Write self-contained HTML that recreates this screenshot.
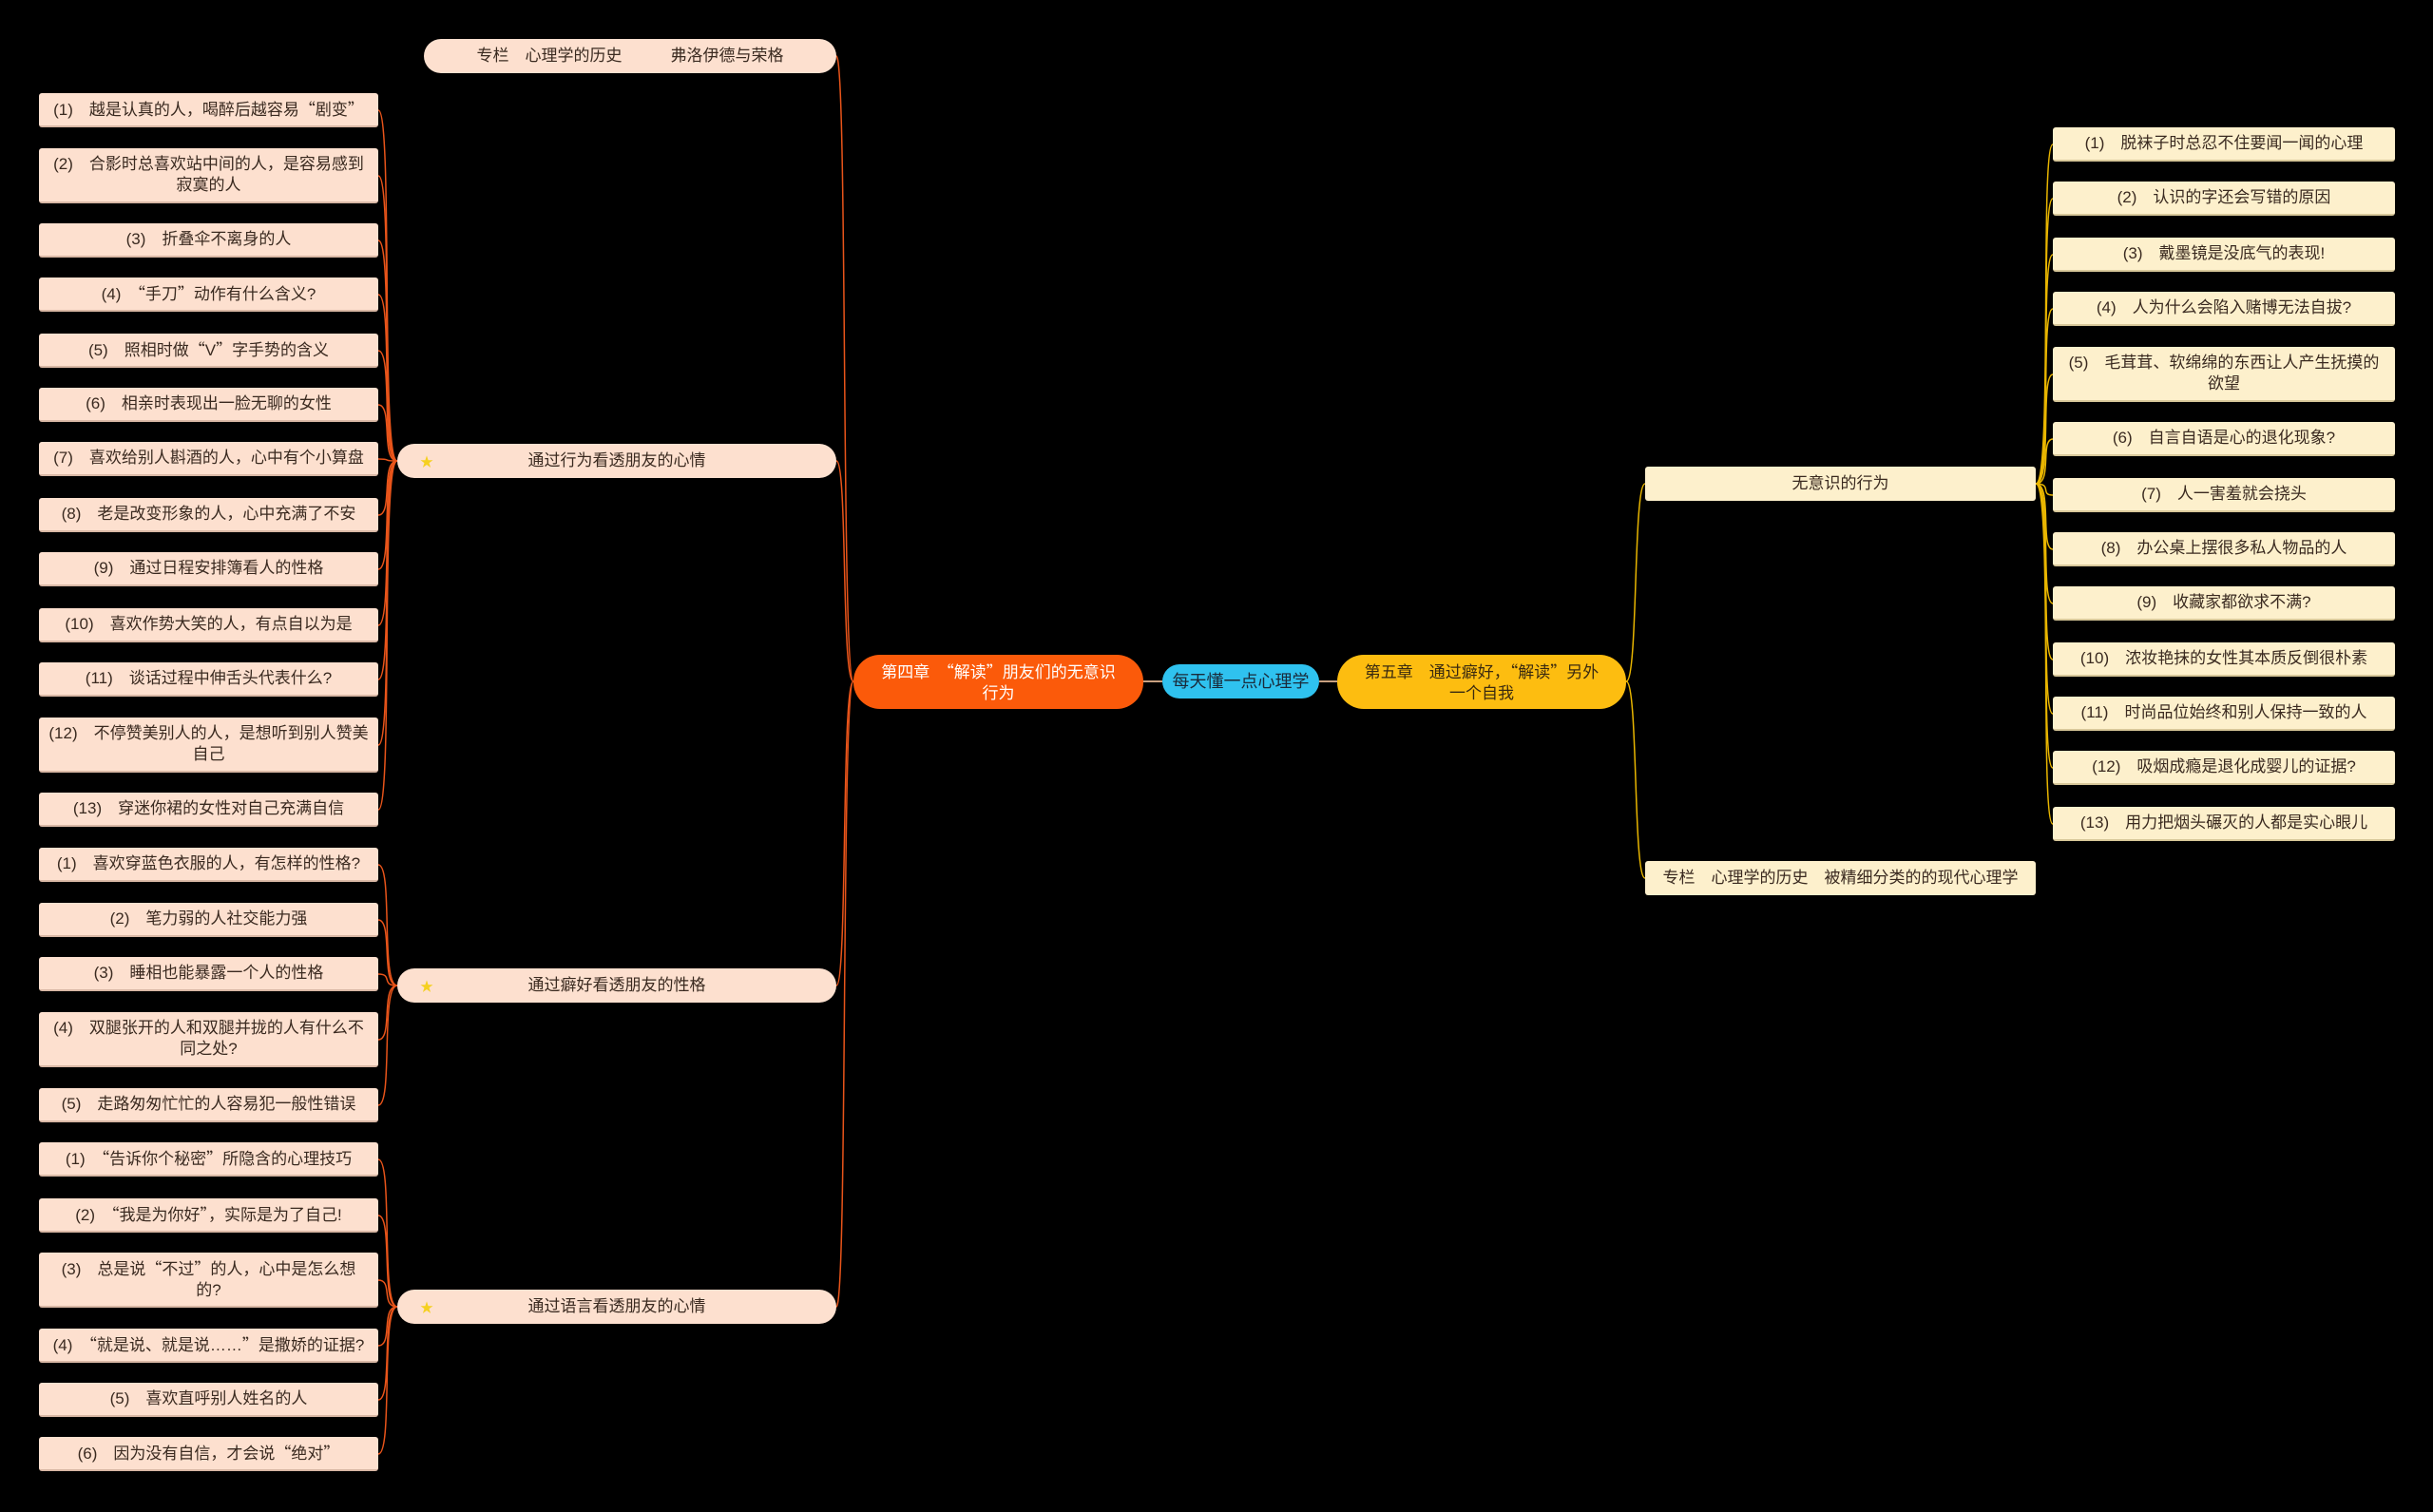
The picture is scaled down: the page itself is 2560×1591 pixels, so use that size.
<!DOCTYPE html>
<html><head><meta charset="utf-8"><style>
body{margin:0;width:2560px;height:1591px;background:#000;position:relative;overflow:hidden;font-family:"Liberation Sans","Noto Sans CJK SC",sans-serif;}
.n{position:absolute;display:flex;align-items:center;justify-content:center;text-align:center;box-sizing:border-box;font-size:17px;color:#3a2a20;line-height:22px;padding:0 10px;}
.l{left:41px;width:357px;height:36px;background:#fde0cf;border-radius:3px;border-bottom:2px solid #d9b8a5;}
.l2{height:58px;}
.r{left:2160px;width:360px;height:36px;background:#fdf0cc;border-radius:3px;border-bottom:2px solid #d8c89a;}
.r2{height:58px;}
.m{left:418px;width:462px;height:36px;background:#fde0cf;border-radius:18px;}
.star{position:absolute;left:24px;top:8px;color:#f5d020;font-size:14px;}
.q{font-family:"Noto Sans CJK SC",sans-serif;}
</style></head><body>
<svg width="2560" height="1591" style="position:absolute;left:0;top:0">
<g fill="none" stroke="#e8541a" stroke-width="1.5">
<path d="M898,717 C885,717 892,59 880,59"/>
<path d="M898,717 C885,717 892,485 880,485"/>
<path d="M898,717 C885,717 892,1037 880,1037"/>
<path d="M898,717 C885,717 892,1375 880,1375"/>
<path d="M418,485 C400,485 414,116 398,116"/><path d="M418,485 C400,485 414,185 398,185"/><path d="M418,485 C400,485 414,253 398,253"/><path d="M418,485 C400,485 414,310 398,310"/><path d="M418,485 C400,485 414,369 398,369"/><path d="M418,485 C400,485 414,426 398,426"/><path d="M418,485 C400,485 414,483 398,483"/><path d="M418,485 C400,485 414,542 398,542"/><path d="M418,485 C400,485 414,599 398,599"/><path d="M418,485 C400,485 414,658 398,658"/><path d="M418,485 C400,485 414,715 398,715"/><path d="M418,485 C400,485 414,784 398,784"/><path d="M418,485 C400,485 414,852 398,852"/>
<path d="M418,1037 C400,1037 414,910 398,910"/><path d="M418,1037 C400,1037 414,968 398,968"/><path d="M418,1037 C400,1037 414,1025 398,1025"/><path d="M418,1037 C400,1037 414,1094 398,1094"/><path d="M418,1037 C400,1037 414,1163 398,1163"/>
<path d="M418,1375 C400,1375 414,1220 398,1220"/><path d="M418,1375 C400,1375 414,1279 398,1279"/><path d="M418,1375 C400,1375 414,1347 398,1347"/><path d="M418,1375 C400,1375 414,1416 398,1416"/><path d="M418,1375 C400,1375 414,1473 398,1473"/><path d="M418,1375 C400,1375 414,1530 398,1530"/>
</g>
<path d="M1203,717 L1223,717 M1388,717 L1407,717" stroke="#c9a080" stroke-width="2"/>
<g fill="none" stroke="#e8b500" stroke-width="1.5">
<path d="M1711,717 C1724,717 1718,509 1731,509"/><path d="M1711,717 C1724,717 1718,924 1731,924"/>
<path d="M2142,509 C2160,509 2146,152 2160,152"/><path d="M2142,509 C2160,509 2146,209 2160,209"/><path d="M2142,509 C2160,509 2146,268 2160,268"/><path d="M2142,509 C2160,509 2146,325 2160,325"/><path d="M2142,509 C2160,509 2146,394 2160,394"/><path d="M2142,509 C2160,509 2146,462 2160,462"/><path d="M2142,509 C2160,509 2146,521 2160,521"/><path d="M2142,509 C2160,509 2146,578 2160,578"/><path d="M2142,509 C2160,509 2146,635 2160,635"/><path d="M2142,509 C2160,509 2146,694 2160,694"/><path d="M2142,509 C2160,509 2146,751 2160,751"/><path d="M2142,509 C2160,509 2146,808 2160,808"/><path d="M2142,509 C2160,509 2146,867 2160,867"/>
</g>
</svg>

<div class="n m" style="left:446px;width:434px;top:41px;">专栏　心理学的历史　　　弗洛伊德与荣格</div>
<div class="n m" style="top:467px;"><span class="star">★</span>通过行为看透朋友的心情</div>
<div class="n m" style="top:1019px;"><span class="star">★</span>通过癖好看透朋友的性格</div>
<div class="n m" style="top:1357px;"><span class="star">★</span>通过语言看透朋友的心情</div>

<div class="n l" style="top:98px"><span>(1)　越是认真的人，喝醉后越容易<span class="q">“</span>剧变<span class="q">”</span></span></div>
<div class="n l l2" style="top:156px">(2)　合影时总喜欢站中间的人，是容易感到寂寞的人</div>
<div class="n l" style="top:235px">(3)　折叠伞不离身的人</div>
<div class="n l" style="top:292px"><span>(4)　<span class="q">“</span>手刀<span class="q">”</span>动作有什么含义?</span></div>
<div class="n l" style="top:351px"><span>(5)　照相时做<span class="q">“</span>V<span class="q">”</span>字手势的含义</span></div>
<div class="n l" style="top:408px">(6)　相亲时表现出一脸无聊的女性</div>
<div class="n l" style="top:465px">(7)　喜欢给别人斟酒的人，心中有个小算盘</div>
<div class="n l" style="top:524px">(8)　老是改变形象的人，心中充满了不安</div>
<div class="n l" style="top:581px">(9)　通过日程安排簿看人的性格</div>
<div class="n l" style="top:640px">(10)　喜欢作势大笑的人，有点自以为是</div>
<div class="n l" style="top:697px">(11)　谈话过程中伸舌头代表什么?</div>
<div class="n l l2" style="top:755px">(12)　不停赞美别人的人，是想听到别人赞美自己</div>
<div class="n l" style="top:834px">(13)　穿迷你裙的女性对自己充满自信</div>
<div class="n l" style="top:892px">(1)　喜欢穿蓝色衣服的人，有怎样的性格?</div>
<div class="n l" style="top:950px">(2)　笔力弱的人社交能力强</div>
<div class="n l" style="top:1007px">(3)　睡相也能暴露一个人的性格</div>
<div class="n l l2" style="top:1065px">(4)　双腿张开的人和双腿并拢的人有什么不同之处?</div>
<div class="n l" style="top:1145px">(5)　走路匆匆忙忙的人容易犯一般性错误</div>
<div class="n l" style="top:1202px"><span>(1)　<span class="q">“</span>告诉你个秘密<span class="q">”</span>所隐含的心理技巧</span></div>
<div class="n l" style="top:1261px"><span>(2)　<span class="q">“</span>我是为你好<span class="q">”</span>，实际是为了自己!</span></div>
<div class="n l l2" style="top:1318px;padding:0 18px"><span>(3)　总是说<span class="q">“</span>不过<span class="q">”</span>的人，心中是怎么想的?</span></div>
<div class="n l" style="top:1398px"><span>(4)　<span class="q">“</span>就是说、就是说……<span class="q">”</span>是撒娇的证据?</span></div>
<div class="n l" style="top:1455px">(5)　喜欢直呼别人姓名的人</div>
<div class="n l" style="top:1512px"><span>(6)　因为没有自信，才会说<span class="q">“</span>绝对<span class="q">”</span></span></div>

<div class="n" style="left:898px;top:689px;width:305px;height:57px;background:#fb5a0a;border-radius:28px;color:#fff;padding:0 28px;"><span>第四章　<span class="q">“</span>解读<span class="q">”</span>朋友们的无意识行为</span></div>
<div class="n" style="left:1223px;top:699px;width:165px;height:36px;background:#2fc2ef;border-radius:18px;color:#1a2a3a;font-size:18px;">每天懂一点心理学</div>
<div class="n" style="left:1407px;top:689px;width:304px;height:57px;background:#fdbd10;border-radius:28px;color:#3a2a10;padding:0 28px;"><span>第五章　通过癖好，<span class="q">“</span>解读<span class="q">”</span>另外一个自我</span></div>

<div class="n" style="left:1731px;top:491px;width:411px;height:36px;background:#fdf0cc;border-radius:3px;">无意识的行为</div>
<div class="n" style="left:1731px;top:906px;width:411px;height:36px;background:#fdf0cc;border-radius:3px;">专栏　心理学的历史　被精细分类的的现代心理学</div>

<div class="n r" style="top:134px">(1)　脱袜子时总忍不住要闻一闻的心理</div>
<div class="n r" style="top:191px">(2)　认识的字还会写错的原因</div>
<div class="n r" style="top:250px">(3)　戴墨镜是没底气的表现!</div>
<div class="n r" style="top:307px">(4)　人为什么会陷入赌博无法自拔?</div>
<div class="n r r2" style="top:365px">(5)　毛茸茸、软绵绵的东西让人产生抚摸的欲望</div>
<div class="n r" style="top:444px">(6)　自言自语是心的退化现象?</div>
<div class="n r" style="top:503px">(7)　人一害羞就会挠头</div>
<div class="n r" style="top:560px">(8)　办公桌上摆很多私人物品的人</div>
<div class="n r" style="top:617px">(9)　收藏家都欲求不满?</div>
<div class="n r" style="top:676px">(10)　浓妆艳抹的女性其本质反倒很朴素</div>
<div class="n r" style="top:733px">(11)　时尚品位始终和别人保持一致的人</div>
<div class="n r" style="top:790px">(12)　吸烟成瘾是退化成婴儿的证据?</div>
<div class="n r" style="top:849px">(13)　用力把烟头碾灭的人都是实心眼儿</div>
</body></html>
